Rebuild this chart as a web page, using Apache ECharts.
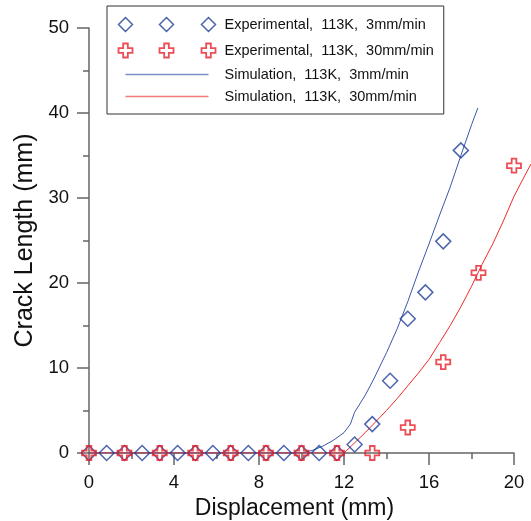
<!DOCTYPE html>
<html>
<head>
<meta charset="utf-8">
<script src="https://cdn.jsdelivr.net/npm/echarts@6/dist/echarts.min.js"></script>
<style>
  html, body { margin: 0; padding: 0; background: #fff; }
  #chart { width: 531px; height: 521px; }
</style>
</head>
<body>
<div id="chart"></div>
<script>
// experimental, 3mm/min (diamonds)
var exp3X = [0, 0.83, 1.67, 2.5, 3.33, 4.17, 5, 5.83, 6.67, 7.5, 8.33, 9.17, 10, 10.83, 11.67, 12.5, 13.33, 14.17, 15, 15.83, 16.67, 17.5];
var exp3Y = [0, 0, 0, 0, 0, 0, 0, 0, 0, 0, 0, 0, 0, 0, 0, 1.0, 3.4, 8.5, 15.8, 18.9, 24.9, 35.6];
// experimental, 30mm/min (crosses)
var exp30X = [0, 1.67, 3.33, 5, 6.67, 8.33, 10, 11.67, 13.33, 15, 16.67, 18.33, 20];
var exp30Y = [0, 0, 0, 0, 0, 0, 0, 0, 0, 3.0, 10.7, 21.2, 33.8];
// simulation curves
var sim3X = [0, 10, 10.5, 11, 11.5, 12, 12.3, 12.5, 13, 13.4, 14, 14.5, 15, 15.5, 16, 16.5, 17, 17.5, 18, 18.3];
var sim3Y = [0, 0, 0.3, 0.8, 1.5, 2.4, 3.4, 4.8, 6.8, 8.7, 11.8, 14.6, 17.8, 21.3, 24.6, 28, 31.3, 35, 38.6, 40.6];
var sim30X = [0, 12, 12.5, 13, 13.5, 14, 14.5, 15, 15.5, 16, 16.5, 17, 17.5, 18, 18.5, 19, 19.5, 20, 20.5, 20.8];
var sim30Y = [0, 0, 1.2, 2.4, 3.7, 5.0, 6.4, 7.9, 9.4, 11.0, 13.0, 15.0, 17.2, 19.6, 22.2, 24.6, 27.3, 30.2, 32.6, 34.0];

var names = [
    'Experimental,  113K,  3mm/min',
    'Experimental,  113K,  30mm/min',
    'Simulation,  113K,  3mm/min',
    'Simulation,  113K,  30mm/min'
];

var BLUE = '#1f3f98';
var RED = '#e8202a';
var FONT = 'Arial, "Liberation Sans", sans-serif';

function pairs(xs, ys) {
    return xs.map(function (x, i) { return [x, ys[i]]; });
}

// marker shapes
var diamond = 'path://M0 7L7 0L14 7L7 14Z';
var cross = 'path://M4 0H8V4H12V8H8V12H4V8H0V4H4Z';

// legend icons: three markers in a row (the M0 0 / M101 14 points fix the box size)
function threeDiamonds() {
    var s = 'path://M0 0M101 14';
    [0, 41, 83].forEach(function (o) {
        s += 'M' + o + ' 7L' + (o + 7) + ' 0L' + (o + 14) + ' 7L' + (o + 7) + ' 14Z';
    });
    return s;
}
function threeCrosses() {
    var s = 'path://M0 0M101 14';
    [0, 41, 83].forEach(function (o) {
        var a = o, b = o + 4.67, c = o + 9.33, d = o + 14;
        s += 'M' + b + ' 0H' + c + 'V4.67H' + d + 'V9.33H' + c + 'V14H' + b + 'V9.33H' + a + 'V4.67H' + b + 'Z';
    });
    return s;
}
var legendLine = 'path://M0 0M101 14M7 6.3H90V7.7H7Z';

var myChart = echarts.init(document.getElementById('chart'));

var axisCommon = {
    type: 'value',
    nameLocation: 'middle',
    nameTextStyle: { fontFamily: FONT, fontSize: 23, color: '#111' },
    axisLine: { show: true, onZero: false, lineStyle: { color: '#666', width: 1.5 } },
    axisTick: { show: true, inside: false, length: 12, lineStyle: { color: '#666', width: 1.5 } },
    minorTick: { show: true, splitNumber: 2, length: 6, lineStyle: { color: '#666', width: 1.5 } },
    axisLabel: { fontFamily: FONT, fontSize: 18.5, color: '#111' },
    splitLine: { show: false },
    minorSplitLine: { show: false }
};

var option = {
    backgroundColor: '#fff',
    animation: false,
    grid: [
        { left: 89, right: 17, top: 28, bottom: 68, containLabel: false, outerBoundsMode: 'none' },
        // same scale, reaching the right edge, so the 30mm/min curve runs past x = 20
        { left: 89, right: 0, top: 28, bottom: 68, containLabel: false, outerBoundsMode: 'none' }
    ],
    legend: {
        orient: 'vertical',
        left: 107,
        top: 6,
        padding: [9, 10, 10, 9],
        itemGap: 7,
        itemWidth: 101,
        itemHeight: 14,
        borderColor: '#333',
        borderWidth: 1,
        backgroundColor: '#fff',
        textStyle: { fontFamily: FONT, fontSize: 14.5, color: '#111', lineHeight: 14 },
        data: [
            { name: names[0], icon: threeDiamonds(), itemStyle: { color: 'none', borderColor: BLUE, borderWidth: 1.5 } },
            { name: names[1], icon: threeCrosses(), itemStyle: { color: 'none', borderColor: RED, borderWidth: 1.8 } },
            { name: names[2], icon: legendLine, itemStyle: { color: '#7a90c8', borderWidth: 0 } },
            { name: names[3], icon: legendLine, itemStyle: { color: '#f27a7a', borderWidth: 0 } }
        ]
    },
    xAxis: [
        Object.assign({}, axisCommon, {
            name: 'Displacement (mm)',
            nameGap: 40,
            nameTextStyle: Object.assign({}, axisCommon.nameTextStyle, { padding: [0, 14, 0, 0] }),
            min: 0,
            max: 20,
            interval: 4,
            axisLabel: Object.assign({}, axisCommon.axisLabel, { margin: 20 })
        }),
        { type: 'value', gridIndex: 1, min: 0, max: 442 / 21.25, show: false }
    ],
    yAxis: [
        Object.assign({}, axisCommon, {
            name: 'Crack Length (mm)',
            nameGap: 47,
            nameTextStyle: Object.assign({}, axisCommon.nameTextStyle, { fontSize: 25 }),
            min: 0,
            max: 50,
            interval: 10,
            axisLabel: Object.assign({}, axisCommon.axisLabel, { margin: 20 })
        }),
        { type: 'value', gridIndex: 1, min: 0, max: 50, show: false }
    ],
    series: [
        {
            name: names[2],
            type: 'line',
            data: pairs(sim3X, sim3Y),
            showSymbol: false,
            symbol: 'none',
            lineStyle: { color: '#3a58a8', width: 1 },
            itemStyle: { color: '#3a58a8' },
            z: 2
        },
        {
            name: names[3],
            type: 'line',
            xAxisIndex: 1,
            yAxisIndex: 1,
            data: pairs(sim30X, sim30Y),
            showSymbol: false,
            symbol: 'none',
            lineStyle: { color: '#f02a2a', width: 1 },
            itemStyle: { color: '#f02a2a' },
            z: 2
        },
        {
            name: names[0],
            type: 'scatter',
            data: pairs(exp3X, exp3Y),
            symbol: diamond,
            symbolSize: 15,
            clip: false,
            itemStyle: { color: 'none', borderColor: BLUE, borderWidth: 1.5 },
            z: 3
        },
        {
            name: names[1],
            type: 'scatter',
            data: pairs(exp30X, exp30Y),
            symbol: cross,
            symbolSize: 14,
            clip: false,
            itemStyle: { color: 'none', borderColor: RED, borderWidth: 1.8 },
            z: 4
        }
    ]
};

myChart.setOption(option);
</script>
</body>
</html>
